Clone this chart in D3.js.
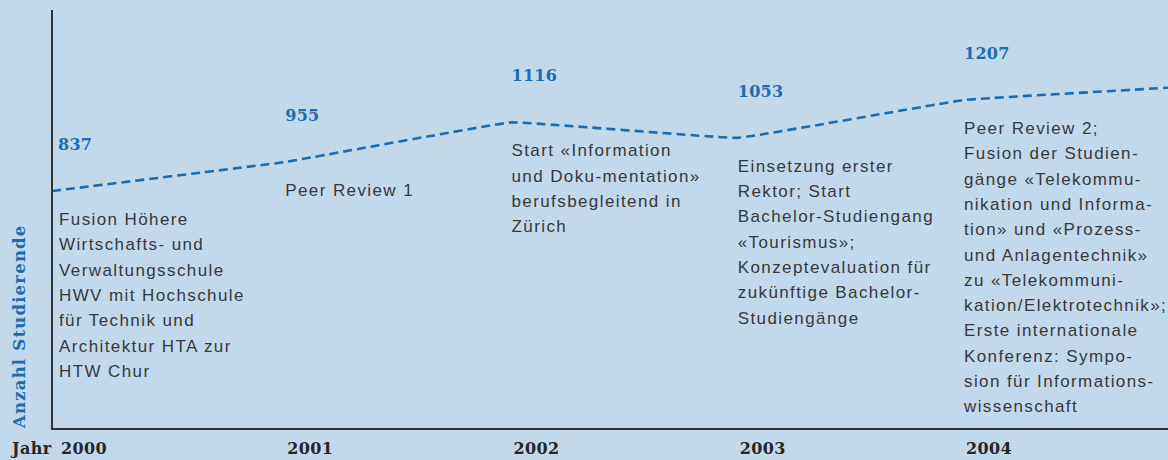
<!DOCTYPE html>
<html><head><meta charset="utf-8">
<script src="https://cdn.jsdelivr.net/npm/d3@7/dist/d3.min.js"></script>
<style>
html,body{margin:0;padding:0;background:#c2d9ec;}
svg{display:block;}
</style></head>
<body>
<svg id="chart" width="1168" height="460"></svg>
<script>
const years = [2000, 2001, 2002, 2003, 2004, 2005];
const students = [837, 955, 1116, 1053, 1207, 1262];
const labelYears = [2000, 2001, 2002, 2003, 2004];
const yearLabels = ["2000", "2001", "2002", "2003", "2004"];
const events = [
  ["Fusion Höhere", "Wirtschafts- und", "Verwaltungsschule", "HWV mit Hochschule", "für Technik und", "Architektur HTA zur", "HTW Chur"],
  ["Peer Review 1"],
  ["Start «Information", "und Doku-mentation»", "berufsbegleitend in", "Zürich"],
  ["Einsetzung erster", "Rektor; Start", "Bachelor-Studiengang", "«Tourismus»;", "Konzeptevaluation für", "zukünftige Bachelor-", "Studiengänge"],
  ["Peer Review 2;", "Fusion der Studien-", "gänge «Telekommu-", "nikation und Informa-", "tion» und «Prozess-", "und Anlagentechnik»", "zu «Telekommuni-", "kation/Elektrotechnik»;", "Erste internationale", "Konferenz: Sympo-", "sion für Informations-", "wissenschaft"]
];
const yTitle = "Anzahl Studierende";
const xTitle = "Jahr";

const W = 1168, H = 460;
const blue = "#1b6cb0";
const dark = "#262626";
const svg = d3.select("#chart");

const x = d3.scaleLinear().domain([2000, 2004]).range([59, 964]);
const y = d3.scaleLinear().domain([837, 1207]).range([191, 100]);
const axisY = 429, axisTop = 10;
const axisX = x(2000) - 7;

svg.append("defs").append("clipPath").attr("id","plot")
  .append("rect").attr("x", axisX).attr("y", 0).attr("width", W - axisX).attr("height", axisY);

// line (first point drawn from the y axis)
const pts = students.map((v,i)=>[i===0 ? axisX : x(years[i]), y(v)]);
const line = d3.line().curve(d3.curveCardinal.tension(0.82));
svg.append("path").datum(pts)
  .attr("clip-path","url(#plot)")
  .attr("d", line).attr("fill","none").attr("stroke", blue)
  .attr("stroke-width", 2.6).attr("stroke-dasharray","9,5");

// axes lines
svg.append("line").attr("x1", axisX).attr("x2", axisX).attr("y1", axisTop).attr("y2", axisY+1)
  .attr("stroke","#333").attr("stroke-width",2);
svg.append("line").attr("x1", axisX-1).attr("x2", W).attr("y1", axisY).attr("y2", axisY)
  .attr("stroke","#333").attr("stroke-width",2);

// x axis labels via d3 axis
const xAxis = d3.axisBottom(x).tickValues(labelYears).tickSize(0).tickPadding(0)
  .tickFormat((d,i)=>yearLabels[i]);
const gx = svg.append("g").attr("transform", `translate(0,${axisY})`).call(xAxis);
gx.select(".domain").remove();
gx.selectAll("text")
  .attr("text-anchor","start")
  .attr("dy", null).attr("y", 25)
  .attr("dx", 1.5)
  .style("font-family","'DejaVu Serif', serif").style("font-weight","bold")
  .style("font-size","16px").style("letter-spacing","0.4px").style("fill", dark);
svg.append("text").attr("x", 12).attr("y", axisY+25).text(xTitle)
  .style("font-family","'DejaVu Serif', serif").style("font-weight","bold")
  .style("font-size","16px").style("letter-spacing","0.4px").style("fill", dark);

// y title
svg.append("text").attr("transform", `translate(25,${axisY-1}) rotate(-90)`)
  .text(yTitle).attr("text-anchor","start")
  .style("font-family","'DejaVu Serif', serif").style("font-weight","bold")
  .style("font-size","16.5px").style("letter-spacing","1.2px").style("fill", blue);

// value labels + events
labelYears.forEach((yr,i)=>{
  const px = x(yr) - (i===0 ? 1 : 0);
  svg.append("text").attr("x", px).attr("y", y(students[i]) - 41)
    .text(students[i])
    .style("font-family","'DejaVu Serif', serif").style("font-weight","bold")
    .style("font-size","16px").style("letter-spacing","0.3px").style("fill", blue);
  const t = svg.append("text").attr("x", x(yr)).attr("y", y(students[i]) + 34)
    .style("font-family","'Liberation Sans', Arial, sans-serif")
    .style("font-size","17px").style("letter-spacing","1.4px").style("fill","#383838");
  events[i].forEach((ln,j)=>{
    t.append("tspan").attr("x", x(yr)).attr("dy", j===0 ? 0 : 25.3).text(ln);
  });
});
</script>
</body></html>
